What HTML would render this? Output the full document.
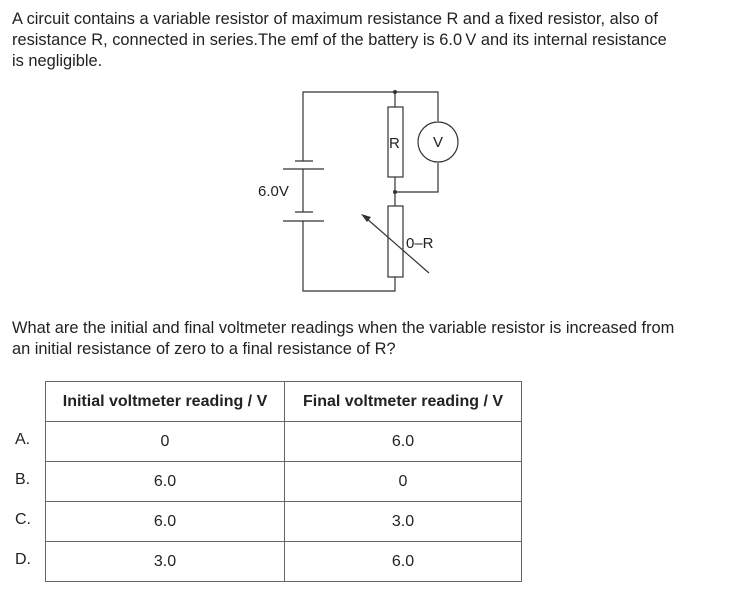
<!DOCTYPE html>
<html><head><meta charset="utf-8"><style>
body{margin:0;width:747px;height:595px;background:#fff;position:relative;font-family:"Liberation Sans",Arial,sans-serif;color:#222;font-size:16.4px;overflow:hidden}
.t{position:absolute;white-space:nowrap;line-height:20px}
table{position:absolute;left:45px;top:381px;border-collapse:collapse}
td{border:1px solid #666;height:39px;text-align:center;padding:0;font-size:16px}
.l{position:absolute;left:15px;font-size:16px}
</style></head><body>
<div class="t" style="left:12px;top:9px">A circuit contains a variable resistor of maximum resistance R and a fixed resistor, also of</div>
<div class="t" style="left:12px;top:30px">resistance R, connected in series.The emf of the battery is 6.0&thinsp;V and its internal resistance</div>
<div class="t" style="left:12px;top:51px">is negligible.</div>
<svg style="position:absolute;left:0;top:0" width="747" height="320">
<g stroke="#333" stroke-width="1.2" fill="none">
<polyline points="303,161 303,92 438,92 438,121"/>
<polyline points="438,163 438,192 395,192"/>
<line x1="395" y1="92" x2="395" y2="107"/>
<line x1="395" y1="177" x2="395" y2="206"/>
<polyline points="303,221 303,291 395,291 395,277"/>
<line x1="303" y1="169" x2="303" y2="212"/>
<rect x="388" y="107" width="15" height="70"/>
<rect x="388" y="206" width="15" height="71"/>
<circle cx="438" cy="142" r="20"/>
<line x1="295" y1="161" x2="313" y2="161"/>
<line x1="283" y1="169" x2="324" y2="169"/>
<line x1="295" y1="212" x2="313" y2="212"/>
<line x1="283" y1="221" x2="324" y2="221"/>
<line x1="429" y1="273" x2="366" y2="218"/>
</g>
<polygon points="361,214 371,217 367,222" fill="#333"/>
<circle cx="395" cy="92" r="2" fill="#333"/>
<circle cx="395" cy="192" r="2" fill="#333"/>
<g font-family="Liberation Sans,Arial,sans-serif" font-size="15" fill="#222">
<text x="389" y="148">R</text>
<text x="433" y="147">V</text>
<text x="258" y="196">6.0V</text>
<text x="406" y="248">0–R</text>
</g>
</svg>
<div class="t" style="left:12px;top:318px">What are the initial and final voltmeter readings when the variable resistor is increased from</div>
<div class="t" style="left:12px;top:339px">an initial resistance of zero to a final resistance of R?</div>
<table>
<tr><td style="width:238px;font-weight:bold">Initial voltmeter reading / V</td><td style="width:236px;font-weight:bold">Final voltmeter reading / V</td></tr>
<tr><td>0</td><td>6.0</td></tr>
<tr><td>6.0</td><td>0</td></tr>
<tr><td>6.0</td><td>3.0</td></tr>
<tr><td>3.0</td><td>6.0</td></tr>
</table>
<div class="l" style="top:431px">A.</div>
<div class="l" style="top:471px">B.</div>
<div class="l" style="top:511px">C.</div>
<div class="l" style="top:551px">D.</div>
</body></html>
